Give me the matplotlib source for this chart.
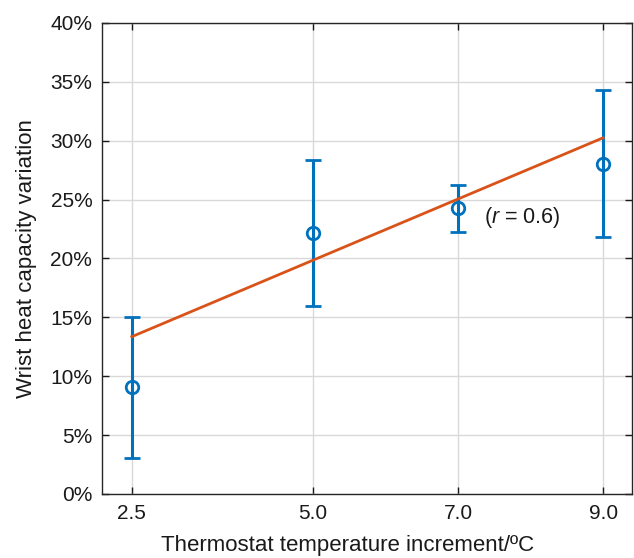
import matplotlib
matplotlib.use("Agg")
import matplotlib.pyplot as plt
from matplotlib.ticker import FuncFormatter

# Measured means and standard deviations (percent)
temp_increment = [2.5, 5.0, 7.0, 9.0]
mean_variation = [9.05, 22.15, 24.25, 28.05]
sd_variation = [6.0, 6.2, 2.0, 6.25]

# Linear trend line end points
fit_x = [2.5, 9.0]
fit_y = [13.36, 30.25]

x_ticks = [2.5, 5.0, 7.0, 9.0]
x_tick_labels = ["2.5", "5.0", "7.0", "9.0"]
y_ticks = [0, 5, 10, 15, 20, 25, 30, 35, 40]

plt.rcParams["font.family"] = ["Liberation Sans", "DejaVu Sans"]
plt.rcParams["mathtext.fontset"] = "custom"
plt.rcParams["mathtext.it"] = "Liberation Sans:italic"
plt.rcParams["mathtext.rm"] = "Liberation Sans"

blue = "#0072BD"
orange = "#D95319"

fig = plt.figure(figsize=(6.34, 5.58), dpi=100)
ax = fig.add_axes([0.161, 0.1147, 0.836, 0.8441])

ax.errorbar(temp_increment, mean_variation, yerr=sd_variation,
            fmt="o", color=blue, mfc="none", mec=blue, mew=2.0, ms=9,
            elinewidth=2.2, capsize=5.5, capthick=2.2, zorder=3)
ax.plot(fit_x, fit_y, color=orange, lw=2.0, zorder=4)

ax.text(7.36, 23.5, "($r$ = 0.6)", fontsize=15.5, va="center", ha="left",
        color="#1a1a1a")

ax.set_xlim(2.09, 9.4)
ax.set_ylim(0, 40)
ax.set_xticks(x_ticks)
ax.set_xticklabels(x_tick_labels)
ax.set_yticks(y_ticks)
ax.yaxis.set_major_formatter(FuncFormatter(lambda v, p: f"{v:.0f}%"))

ax.grid(True, color="#d9d9d9", lw=1.0)
ax.set_axisbelow(True)
ax.tick_params(direction="in", top=True, right=True, length=5, width=1.0,
               labelsize=15, colors="#1a1a1a", pad=7)
for s in ax.spines.values():
    s.set_color("#262626")
    s.set_linewidth(1.0)

ax.set_xlabel("Thermostat temperature increment/ºC", fontsize=16,
              color="#1a1a1a")
ax.set_ylabel("Wrist heat capacity variation", fontsize=16,
              color="#1a1a1a")
ax.xaxis.set_label_coords(0.464, -0.086)
ax.yaxis.set_label_coords(-0.122, 0.5)

fig.savefig("out.png", dpi=100)
